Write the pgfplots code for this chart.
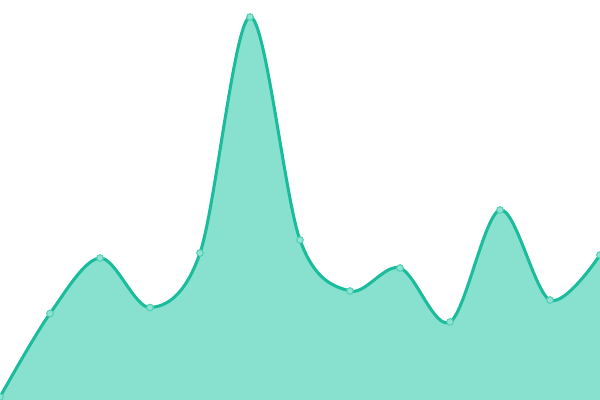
\documentclass[border=0pt]{standalone}
\usepackage{pgfplots}
\pgfplotsset{compat=1.18}
\definecolor{teal1}{HTML}{1ABC9C}
\definecolor{tealfill}{HTML}{88E0CF}
\definecolor{markfill}{HTML}{8FE3D2}
\definecolor{markdraw}{HTML}{4DCFB3}
\begin{document}
\begin{tikzpicture}
\begin{axis}[
  scale only axis,
  width=6in, height=4in,
  xmin=0, xmax=600, ymin=0, ymax=400,
  hide axis,
  clip=true,
  clip marker paths=true,
]
% values: 400 - pixel row
\addplot[draw=none, fill=tealfill, smooth, tension=0.55] coordinates {
 (0,3) (50,86.5) (100,142) (150,92.5) (200,147) (250,383) (300,160)
 (350,109) (400,132) (450,78) (500,190) (550,100) (600,145)
} \closedcycle;
\addplot[teal1, line width=2.2pt, smooth, tension=0.55,
  mark=*, mark options={fill=markfill, draw=markdraw, line width=0.7pt},
  mark size=2.4pt] coordinates {
 (0,3) (50,86.5) (100,142) (150,92.5) (200,147) (250,383) (300,160)
 (350,109) (400,132) (450,78) (500,190) (550,100) (600,145)
};
\end{axis}
\pgfresetboundingbox
\path[use as bounding box] (current axis.south west) rectangle (current axis.north east);
\end{tikzpicture}
\end{document}
